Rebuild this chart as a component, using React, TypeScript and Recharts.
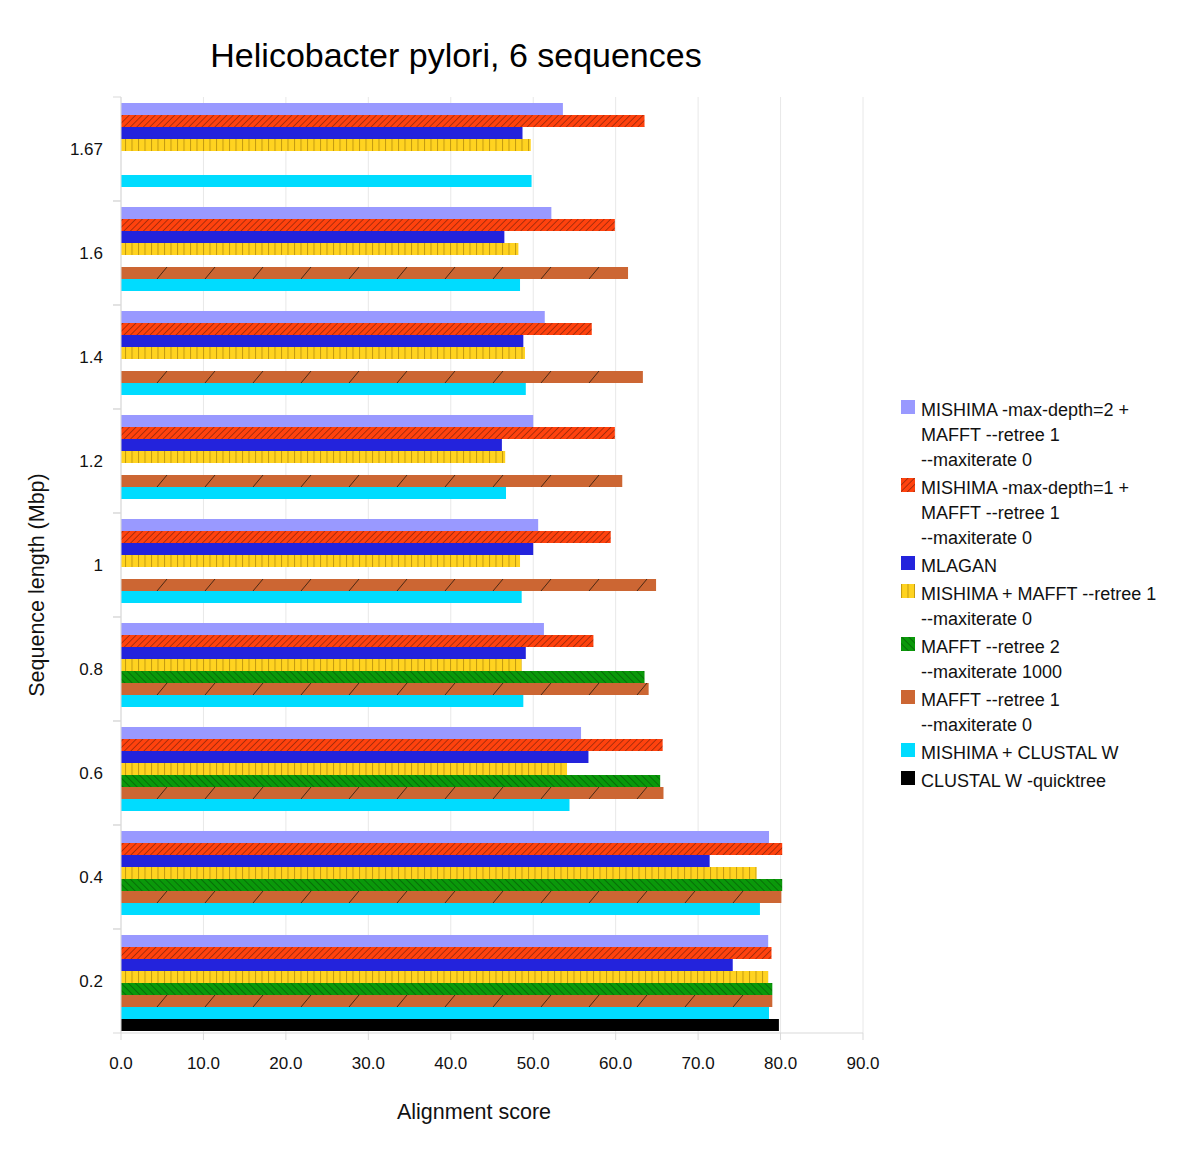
import { BarChart, Bar, XAxis, YAxis, CartesianGrid, Legend } from 'recharts';

const categories = ['1.67', '1.6', '1.4', '1.2', '1', '0.8', '0.6', '0.4', '0.2'];

const mishimaDepth2 = [53.6, 52.2, 51.4, 50.0, 50.6, 51.3, 55.8, 78.6, 78.5];
const mishimaDepth1 = [63.5, 59.9, 57.1, 59.9, 59.4, 57.3, 65.7, 80.2, 78.9];
const mlagan = [48.7, 46.5, 48.8, 46.2, 50.0, 49.1, 56.7, 71.4, 74.2];
const mishimaMafft = [49.7, 48.2, 49.0, 46.6, 48.4, 48.6, 54.1, 77.1, 78.5];
const mafftRetree2 = [null, null, null, null, null, 63.5, 65.4, 80.2, 79.0];
const mafftRetree1 = [null, 61.5, 63.3, 60.8, 64.9, 64.0, 65.8, 80.1, 79.0];
const mishimaClustal = [49.8, 48.4, 49.1, 46.7, 48.6, 48.8, 54.4, 77.5, 78.6];
const clustalQuick = [null, null, null, null, null, null, null, null, 79.8];

const xTicks = [0, 10, 20, 30, 40, 50, 60, 70, 80, 90];

const series = [
  { key: 'd2', values: mishimaDepth2, fill: '#9999ff', label: ['MISHIMA -max-depth=2 +', 'MAFFT --retree 1', '--maxiterate 0'] },
  { key: 'd1', values: mishimaDepth1, fill: 'url(#hatchRed)', label: ['MISHIMA -max-depth=1 +', 'MAFFT --retree 1', '--maxiterate 0'] },
  { key: 'mlagan', values: mlagan, fill: '#2323dc', label: ['MLAGAN'] },
  { key: 'mm', values: mishimaMafft, fill: 'url(#hatchYellow)', label: ['MISHIMA + MAFFT --retree 1', '--maxiterate 0'] },
  { key: 'r2', values: mafftRetree2, fill: 'url(#hatchGreen)', label: ['MAFFT --retree 2', '--maxiterate 1000'] },
  { key: 'r1', values: mafftRetree1, fill: '#cc6633', label: ['MAFFT --retree 1', '--maxiterate 0'] },
  { key: 'mc', values: mishimaClustal, fill: '#00dcff', label: ['MISHIMA + CLUSTAL W'] },
  { key: 'cw', values: clustalQuick, fill: '#000000', label: ['CLUSTAL W -quicktree'] },
];

const chartData = categories.map((c, i) => {
  const row: Record<string, string | number | null> = { size: c };
  series.forEach(s => { row[s.key] = s.values[i]; });
  return row;
});

const PLOT_LEFT = 113;
const HALF_BAND = 52;

// brown bars: solid fill with sparse slashes
function SlashBar(props: any) {
  const { x, y, width, height } = props;
  if (!width || width <= 0) return null;
  const lines = [];
  for (let sx = PLOT_LEFT + 36; sx + 10 <= x + width + 1; sx += 48) {
    lines.push(<line key={sx} x1={sx} y1={y + height} x2={sx + 10} y2={y} stroke="#3a2010" strokeWidth={0.9} />);
  }
  return (
    <g>
      <rect x={x} y={y} width={width} height={height} fill="#cc6633" />
      {lines}
    </g>
  );
}

function YTick(props: any) {
  const { x, y, payload } = props;
  return (
    <g>
      <text x={x} y={y} dy="0.35em" textAnchor="end" fontSize={17} fill="#111">{payload.value}</text>
      <line x1={PLOT_LEFT - 8} x2={PLOT_LEFT} y1={y - HALF_BAND} y2={y - HALF_BAND} stroke="#d9d9d9" />
      <line x1={PLOT_LEFT - 8} x2={PLOT_LEFT} y1={y + HALF_BAND} y2={y + HALF_BAND} stroke="#d9d9d9" />
    </g>
  );
}

function LegendBox() {
  return (
    <div style={{ fontSize: 18, color: '#111', lineHeight: '25px' }}>
      {series.map(s => (
        <div key={s.key} style={{ display: 'flex', marginBottom: 3 }}>
          <svg width={14} height={14} style={{ marginTop: 2, marginRight: 6, flex: 'none' }}>
            <rect width={14} height={14} fill={s.fill} />
          </svg>
          <div>
            {s.label.map(t => <div key={t} style={{ whiteSpace: 'pre' }}>{t}</div>)}
          </div>
        </div>
      ))}
    </div>
  );
}

export default function App() {
  return (
    <div style={{ position: 'relative', width: 1184, height: 1144, fontFamily: '"Liberation Sans", Arial, sans-serif' }}>
      <div style={{ position: 'absolute', left: 0, top: 30, width: 896, textAlign: 'center', fontSize: 34, lineHeight: '34px', color: '#000' }}>
        Helicobacter pylori, 6 sequences
      </div>
      <BarChart
        width={1184}
        height={1144}
        data={chartData}
        layout="vertical"
        margin={{ top: 89, right: 329, bottom: 79, left: 40 }}
        barGap={0}
        barCategoryGap={6}
      >
        <defs>
          <pattern id="hatchRed" patternUnits="userSpaceOnUse" width={4.6} height={4.6} patternTransform="rotate(45)">
            <rect width={4.6} height={4.6} fill="#ff420e" />
            <line x1={0} y1={0} x2={0} y2={4.6} stroke="#4a1406" strokeWidth={0.9} />
          </pattern>
          <pattern id="hatchYellow" patternUnits="userSpaceOnUse" width={6.5} height={10}>
            <rect width={6.5} height={10} fill="#ffd320" />
            <line x1={0.5} y1={0} x2={0.5} y2={10} stroke="#c39a10" strokeWidth={1} />
          </pattern>
          <pattern id="hatchGreen" patternUnits="userSpaceOnUse" width={5} height={5} patternTransform="rotate(-45)">
            <rect width={5} height={5} fill="#0a990a" />
            <line x1={0} y1={0} x2={0} y2={5} stroke="#063a06" strokeWidth={0.9} />
          </pattern>
        </defs>
        <CartesianGrid horizontal={false} stroke="#e8e8e8" />
        <XAxis
          type="number"
          domain={[0, 90]}
          ticks={xTicks}
          tickFormatter={(v: number) => v.toFixed(1)}
          tick={{ fontSize: 17, fill: '#111' }}
          tickSize={7}
          tickMargin={17}
          stroke="#d9d9d9"
          height={40}
          interval={0}
        />
        <XAxis xAxisId="top" orientation="top" type="number" domain={[0, 90]} tick={false} tickLine={false} stroke="#e0e0e0" height={0} />
        <YAxis
          type="category"
          dataKey="size"
          width={73}
          tick={<YTick />}
          tickLine={false}
          tickSize={8}
          tickMargin={10}
          stroke="#d9d9d9"
          interval={0}
        />
        <Legend
          layout="horizontal"
          verticalAlign="middle"
          align="center"
          wrapperStyle={{ left: 893, top: 390, width: 290 }}
          content={() => <LegendBox />}
        />
        {series.map(s => (
          <Bar
            key={s.key}
            dataKey={s.key}
            fill={s.fill}
            isAnimationActive={false}
            shape={s.key === 'r1' ? (p: any) => <SlashBar {...p} /> : undefined}
          />
        ))}
      </BarChart>
      <div style={{ position: 'absolute', left: 316, top: 1093, width: 300, textAlign: 'center', fontSize: 21.5, lineHeight: '22px', color: '#111' }}>
        Alignment score
      </div>
      <div style={{ position: 'absolute', left: -121, top: 566, width: 300, height: 22, textAlign: 'center', fontSize: 21.5, lineHeight: '22px', color: '#111', transform: 'rotate(-90deg)' }}>
        Sequence length (Mbp)
      </div>
    </div>
  );
}
